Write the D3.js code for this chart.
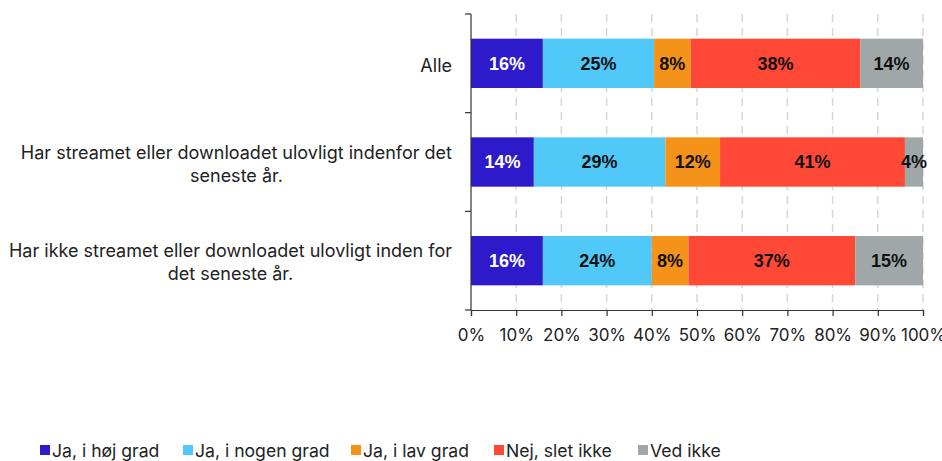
<!DOCTYPE html>
<html><head><meta charset="utf-8">
<script src="https://cdn.jsdelivr.net/npm/d3@7"></script>
<style>body{margin:0;background:#fff}svg{display:block}</style>
</head><body><svg id="c" width="942" height="461"></svg>
<script>
const categories = ["Alle",
  "Har streamet eller downloadet ulovligt indenfor det seneste år.",
  "Har ikke streamet eller downloadet ulovligt inden for det seneste år."];
const categoryLines = [["Alle"],
  ["Har streamet eller downloadet ulovligt indenfor det","seneste år."],
  ["Har ikke streamet eller downloadet ulovligt inden for","det seneste år."]];
const seriesNames = ["Ja, i høj grad","Ja, i nogen grad","Ja, i lav grad","Nej, slet ikke","Ved ikke"];
const valHoej   = [15.9,13.9,15.9];
const valNogen  = [24.6,29.1,24.1];
const valLav    = [8.1,12.1,8.1];
const valNej    = [37.5,40.9,36.9];
const valVed    = [13.9,4.0,15.0];
const seriesValues = [valHoej,valNogen,valLav,valNej,valVed];
const colors = ["#2c1acb","#50c8f8","#f4921a","#ff4836","#a0a7a9"];
const labelColors = ["#fff","#111","#111","#111","#111"];
const xTicks = [0,10,20,30,40,50,60,70,80,90,100];

const svg = d3.select("#c");
const font = "'Inter', 'Liberation Sans', sans-serif";
const x = d3.scaleLinear().domain([0,100]).range([471,923]);
const y = d3.scaleBand().domain(categories).range([14,310]).paddingInner(0.5).paddingOuter(0.25);

// grid
svg.append("g").selectAll("line").data(xTicks.slice(1)).join("line")
  .attr("x1",d=>x(d)).attr("x2",d=>x(d)).attr("y1",14).attr("y2",310)
  .attr("stroke","#d6d6d6").attr("stroke-width",1.5).attr("stroke-dasharray","8,6");

// bars
const rows = categories.map((c,i)=>{let acc=0;return seriesValues.map((s,j)=>{const o={c,j,v:s[i],x0:acc};acc+=s[i];return o;});});
const g = svg.append("g");
rows.flat().forEach(d=>{
  g.append("rect").attr("x",x(d.x0)).attr("y",y(d.c)).attr("width",x(d.x0+d.v)-x(d.x0)).attr("height",y.bandwidth())
   .attr("fill",colors[d.j]);
});
rows.flat().forEach(d=>{
  g.append("text").attr("x",(x(d.x0)+x(d.x0+d.v))/2).attr("y",y(d.c)+y.bandwidth()/2).attr("dy","0.36em")
   .attr("text-anchor","middle").attr("font-family","'Liberation Sans', Arial, sans-serif").attr("font-weight","bold")
   .attr("font-size",18).attr("fill",labelColors[d.j]).text(Math.round(d.v)+"%");
});

// y axis
const yb = [14, ...categories.map((c,i)=>14+(i+1)*(296/3))];
svg.append("line").attr("x1",471).attr("x2",471).attr("y1",14).attr("y2",310).attr("stroke","#333").attr("stroke-width",1.2);
svg.append("g").selectAll("line").data(yb).join("line")
  .attr("x1",465).attr("x2",471).attr("y1",d=>d).attr("y2",d=>d).attr("stroke","#333").attr("stroke-width",1.2);

// x axis
const xa = svg.append("g").attr("transform","translate(0,310)")
  .call(d3.axisBottom(x).tickValues(xTicks).tickFormat(d=>d+"%").tickSizeOuter(0).tickSize(6).tickPadding(13));
xa.select(".domain").attr("stroke","#333").attr("stroke-width",1.2);
xa.selectAll(".tick line").attr("stroke","#333").attr("stroke-width",1.2);
xa.selectAll("text").attr("font-family",font).attr("font-size",17).attr("fill","#222");

// category labels
const right = 452;
categories.forEach((c,i)=>{
  const lines = categoryLines[i];
  const t = svg.append("text").attr("font-family",font).attr("font-size",18).attr("fill","#222");
  const tmp = lines.map(l=>{const s=t.append("tspan").text(l);const w=s.node().getComputedTextLength();s.remove();return w;});
  const mw = d3.max(tmp);
  const cx = right - mw/2;
  const cy = y(c)+y.bandwidth()/2 + 2;
  const lh = 23;
  lines.forEach((l,k)=>{
    t.append("tspan").attr("x",cx).attr("y",cy+(k-(lines.length-1)/2)*lh).attr("dy","0.35em").attr("text-anchor","middle").text(l);
  });
});

// legend
const legX = [40,183,351,494,638];
const lg = svg.append("g");
seriesNames.forEach((n,j)=>{
  lg.append("rect").attr("x",legX[j]).attr("y",445).attr("width",10).attr("height",10).attr("fill",colors[j]);
  lg.append("text").attr("x",legX[j]+12).attr("y",451).attr("dy","0.35em").attr("font-family",font)
    .attr("font-size",17.6).attr("fill","#222").text(n);
});
</script></body></html>
